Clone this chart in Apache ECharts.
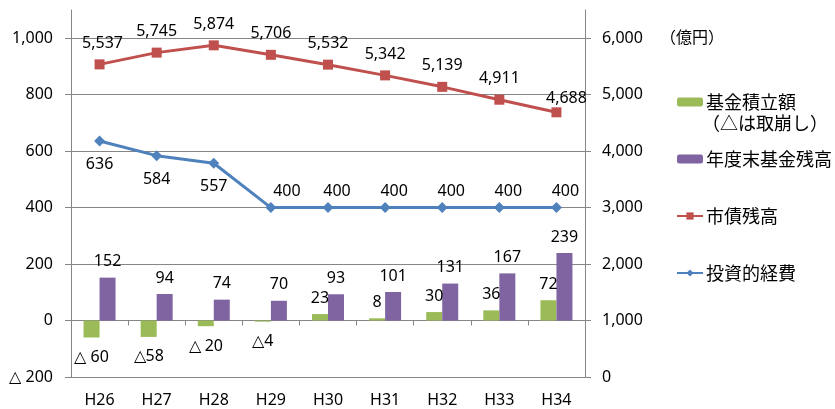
<!DOCTYPE html>
<html>
<head>
<meta charset="utf-8">
<script src="https://cdn.jsdelivr.net/npm/echarts@6/dist/echarts.min.js"></script>
<style>
  html, body { margin: 0; padding: 0; background: #fff; }
  #chart { width: 835px; height: 409px; }
</style>
</head>
<body>
<div id="chart"></div>
<script>
const categories = ['H26', 'H27', 'H28', 'H29', 'H30', 'H31', 'H32', 'H33', 'H34'];
const fundDeposit = [-60, -58, -20, -4, 23, 8, 30, 36, 72];
const fundDepositLabels = ['△ 60', '△58', '△ 20', '△4', '23', '8', '30', '36', '72'];
const fundBalance = [152, 94, 74, 70, 93, 101, 131, 167, 239];
const bondBalance = [5537, 5745, 5874, 5706, 5532, 5342, 5139, 4911, 4688];
const investment = [636, 584, 557, 400, 400, 400, 400, 400, 400];
const seriesNames = ['基金積立額', '年度末基金残高', '市債残高', '投資的経費'];
const legendNote = '（△は取崩し）';
const unitLabel = '（億円）';

const numFont = 'Noto Sans';
const cjkFont = 'Noto Sans CJK JP';
const gray = '#868686';
const fmt = v => v.toLocaleString('en-US');

const chart = echarts.init(document.getElementById('chart'));

const depositData = fundDeposit.map((v, i) => ({
  value: v,
  label: {
    show: true,
    position: v < 0 ? 'bottom' : 'top',
    distance: v < 0 ? 12 : 8,
    formatter: () => fundDepositLabels[i]
  }
}));

const investData = investment.map((v, i) => ({
  value: v,
  label: {
    show: true,
    position: i < 3 ? 'bottom' : 'top',
    distance: i < 3 ? 10 : 3,
    offset: i < 3 ? [0, 0] : (i === 3 ? [16, 0] : [9, 0])
  }
}));

const bondData = bondBalance.map((v, i) => ({
  value: v,
  label: (i === bondBalance.length - 1) ? { offset: [10, 7] } : (i === 0 ? { offset: [3, 0] } : {})
}));

const option = {
  animation: false,
  textStyle: { fontFamily: numFont },
  grid: { left: 71, right: 250, top: 10, bottom: 32 },
  legend: {
    orient: 'vertical',
    left: 676,
    top: 93,
    padding: 0,
    itemGap: 39,
    itemWidth: 26,
    itemHeight: 9,
    data: seriesNames,
    textStyle: { fontSize: 18, fontFamily: cjkFont, color: '#000', padding: [-4, 0, 0, -2] }
  },
  graphic: [
    {
      type: 'text', left: 702, top: 114,
      style: { text: legendNote, fontSize: 18, fontFamily: cjkFont, fill: '#000' }
    },
    {
      type: 'text', left: 660, top: 29,
      style: { text: unitLabel, fontSize: 16, fontFamily: cjkFont, fill: '#000' }
    }
  ],
  xAxis: {
    type: 'category',
    data: categories,
    boundaryGap: true,
    axisLine: { show: true, lineStyle: { color: gray, width: 1 } },
    axisTick: { show: true, length: 5, lineStyle: { color: gray } },
    axisLabel: { color: '#000', fontSize: 16, fontFamily: numFont, margin: 15 }
  },
  yAxis: [
    {
      type: 'value',
      min: -200, max: 1100, interval: 200,
      position: 'left',
      axisLine: { show: true, lineStyle: { color: gray } },
      axisTick: { show: true, length: 6, lineStyle: { color: gray } },
      splitLine: { show: true, showMaxLine: false, lineStyle: { color: gray, width: 1 } },
      axisLabel: {
        color: '#000', fontSize: 16, fontFamily: numFont, margin: 18,
        showMaxLabel: false,
        formatter: v => v > 1000 ? '' : (v < 0 ? '△ ' + fmt(-v) : fmt(v))
      }
    },
    {
      type: 'value',
      min: 0, max: 6500, interval: 1000,
      position: 'right',
      axisLine: { show: true, lineStyle: { color: gray } },
      axisTick: { show: true, length: 6, lineStyle: { color: gray } },
      splitLine: { show: false },
      axisLabel: {
        color: '#000', fontSize: 16, fontFamily: numFont, margin: 17,
        showMaxLabel: false,
        formatter: v => v > 6000 ? '' : fmt(v)
      }
    }
  ],
  series: [
    {
      name: seriesNames[0],
      type: 'bar',
      yAxisIndex: 0,
      data: depositData,
      barWidth: 16,
      barGap: '0%',
      itemStyle: { color: '#9BBB59' },
      label: { color: '#000', fontSize: 16, fontFamily: numFont }
    },
    {
      name: seriesNames[1],
      type: 'bar',
      yAxisIndex: 0,
      data: fundBalance,
      barWidth: 16,
      barGap: '0%',
      itemStyle: { color: '#8064A2' },
      label: { show: true, position: 'top', distance: 8, color: '#000', fontSize: 16, fontFamily: numFont }
    },
    {
      name: seriesNames[2],
      type: 'line',
      yAxisIndex: 1,
      data: bondData,
      symbol: 'rect',
      symbolSize: 10,
      z: 5,
      lineStyle: { color: '#C0504D', width: 3 },
      itemStyle: { color: '#C0504D' },
      label: { show: true, position: 'top', distance: 8, color: '#000', fontSize: 16, fontFamily: numFont, formatter: p => fmt(p.value) }
    },
    {
      name: seriesNames[3],
      type: 'line',
      yAxisIndex: 0,
      data: investData,
      symbol: 'diamond',
      symbolSize: 11,
      z: 5,
      lineStyle: { color: '#4F81BD', width: 3 },
      itemStyle: { color: '#4F81BD' },
      label: { show: true, color: '#000', fontSize: 16, fontFamily: numFont }
    }
  ]
};

chart.setOption(option);
</script>
</body>
</html>
